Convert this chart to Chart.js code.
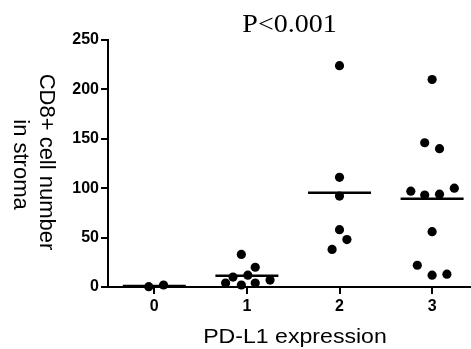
<!DOCTYPE html>
<html><head><meta charset="utf-8">
<script src="https://cdn.jsdelivr.net/npm/chart.js@4/dist/chart.umd.min.js"></script>
<style>html,body{margin:0;padding:0;background:#fff}</style>
</head><body>
<canvas id="c" width="471" height="349"></canvas>
<script>
const categories = [0, 1, 2, 3];
const tickLabelsY = [0, 50, 100, 150, 200, 250];
const group0 = [0.3, 2];
const group1 = [33, 20, 10, 12, 4, 2, 4, 7];
const group2 = [224, 111, 92, 58, 48, 38];
const group3 = [210, 146, 140, 97, 93, 94, 100, 56, 22, 12, 13];
const jitter0 = [-0.06, 0.10];
const jitter1 = [-0.06, 0.09, -0.15, 0.01, -0.23, -0.06, 0.09, 0.25];
const jitter2 = [0, 0, 0, 0, 0.08, -0.08];
const jitter3 = [0, -0.08, 0.08, -0.23, -0.08, 0.08, 0.24, 0, -0.16, 0, 0.16];
const meanLines = [1, 11.5, 95.4, 89.4];
const titleText = 'P<0.001';
const xTitle = 'PD-L1 expression';
const yTitle = ['CD8+ cell number', 'in stroma'];

const groups = [group0, group1, group2, group3];
const jitters = [jitter0, jitter1, jitter2, jitter3];
const points = [];
groups.forEach((g, gi) => g.forEach((v, i) => points.push({x: categories[gi] + jitters[gi][i], y: v})));
const means = meanLines.map((m, i) => ({x: categories[i], y: m}));

const SANS = '"Liberation Sans", Arial, Helvetica, sans-serif';

const textPlugin = {
  id: 'texts',
  afterDraw(chart) {
    const ctx = chart.ctx, ca = chart.chartArea;
    ctx.save();
    ctx.fillStyle = '#000';
    ctx.textBaseline = 'alphabetic';
    ctx.textAlign = 'center';
    // title
    ctx.font = '25px "Liberation Serif", "Times New Roman", serif';
    ctx.save(); ctx.translate((ca.left + ca.right) / 2, 32); ctx.scale(1.12, 1); ctx.fillText(titleText, 0, 0); ctx.restore();
    // x title
    ctx.font = '21px ' + SANS;
    ctx.save(); ctx.translate(295, 343); ctx.scale(1.1, 1); ctx.fillText(xTitle, 0, 0); ctx.restore();
    // y title (rotated clockwise)
    ctx.font = '22px ' + SANS;
    ctx.save(); ctx.translate(40, 162); ctx.rotate(Math.PI / 2); ctx.fillText(yTitle[0], 0, 0); ctx.restore();
    ctx.save(); ctx.translate(13.5, 164.5); ctx.rotate(Math.PI / 2); ctx.fillText(yTitle[1], 0, 0); ctx.restore();
    ctx.restore();
  }
};

new Chart(document.getElementById('c'), {
  type: 'scatter',
  data: {
    datasets: [
      {data: means, pointStyle: 'line', pointRadius: 31.5, borderWidth: 2.5, borderColor: '#000', backgroundColor: '#000', pointHoverRadius: 31.5, clip: false},
      {data: points, pointStyle: 'circle', pointRadius: 4.6, borderWidth: 0, backgroundColor: '#000', borderColor: '#000', clip: false}
    ]
  },
  options: {
    responsive: false,
    animation: false,
    devicePixelRatio: 1,
    layout: {autoPadding: false, padding: {top: 40, right: 0, bottom: 0, left: 0}},
    plugins: {legend: {display: false}, tooltip: {enabled: false}, title: {display: false}},
    scales: {
      x: {
        type: 'linear', min: -0.5, max: 3.42,
        afterBuildTicks: s => { s.ticks = categories.map(v => ({value: v})); },
        afterFit: s => { s.height = 62; },
        grid: {drawOnChartArea: false, drawTicks: true, tickLength: 7, color: '#000', lineWidth: 2},
        border: {display: true, color: '#000', width: 2},
        ticks: {color: '#000', padding: 3, font: {family: SANS, size: 16, weight: 'bold'}, callback: v => String(v)}
      },
      y: {
        type: 'linear', min: 0, max: 250,
        afterBuildTicks: s => { s.ticks = tickLabelsY.map(v => ({value: v})); },
        afterFit: s => { s.width = 108; },
        grid: {drawOnChartArea: false, drawTicks: true, tickLength: 7, color: '#000', lineWidth: 2},
        border: {display: true, color: '#000', width: 2},
        ticks: {color: '#000', padding: 2, font: {family: SANS, size: 16, weight: 'bold'}, callback: v => String(v)}
      }
    }
  },
  plugins: [textPlugin]
});
</script>
</body></html>
